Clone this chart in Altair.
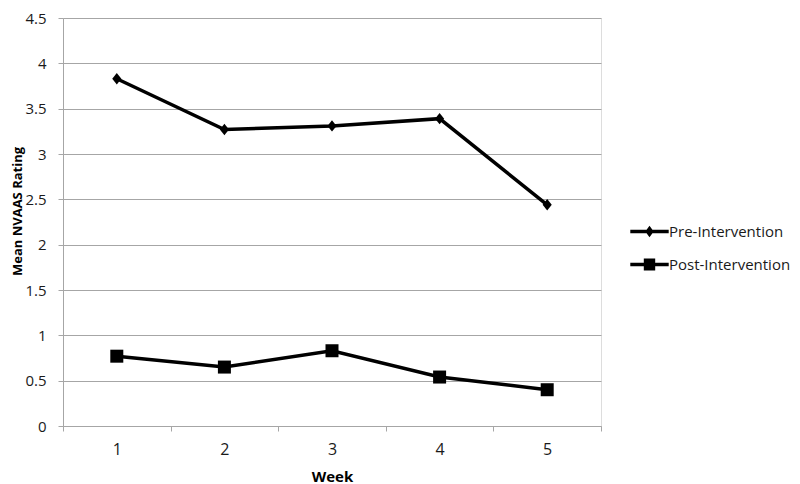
import altair as alt
import pandas as pd

weeks = ["1", "2", "3", "4", "5"]
pre_values = [3.83, 3.27, 3.31, 3.39, 2.44]
post_values = [0.77, 0.65, 0.83, 0.54, 0.40]
series_names = ["Pre-Intervention", "Post-Intervention"]

rows = []
for w, v in zip(weeks, pre_values):
    rows.append({"Week": w, "Rating": v, "Series": series_names[0]})
for w, v in zip(weeks, post_values):
    rows.append({"Week": w, "Rating": v, "Series": series_names[1]})
df = pd.DataFrame(rows)

FONT = "Open Sans"
GRID = "#a6a6a6"
TXT = "#1a1a1a"

x_enc = alt.X(
    "Week:O",
    bandPosition=0.5,
    scale=alt.Scale(type="band", paddingInner=0, paddingOuter=0),
    axis=alt.Axis(
        title="Week", labelAngle=0, tickBand="extent", grid=False,
        domainColor=GRID, tickColor=GRID, tickSize=5, labelPadding=10,
        labelFont=FONT, labelFontSize=16, labelColor=TXT,
        titleFont=FONT, titleFontSize=15, titleFontWeight="bold",
        titleColor="#000000", titlePadding=12,
    ),
)
y_enc = alt.Y(
    "Rating:Q",
    scale=alt.Scale(domain=[0, 4.5], nice=False),
    axis=alt.Axis(
        title="Mean NVAAS Rating", values=[0, 0.5, 1, 1.5, 2, 2.5, 3, 3.5, 4, 4.5],
        format="", grid=True, gridColor=GRID, domainColor=GRID, tickColor=GRID,
        tickSize=5, labelPadding=12, labelFont=FONT, labelFontSize=15,
        labelColor=TXT, titleFont=FONT, titleFontSize=13,
        titleFontWeight="bold", titleColor="#000000",
        titleX=-39, titleY=193, titleAnchor="middle",
    ),
)

lines = alt.Chart(df).mark_line(color="black", strokeWidth=3.5).encode(
    x=x_enc, y=y_enc, detail="Series:N"
)

points = alt.Chart(df).mark_point(filled=True, color="black", opacity=1).encode(
    x=x_enc, y=y_enc,
    shape=alt.Shape(
        "Series:N",
        scale=alt.Scale(domain=series_names,
                        range=["M0,-1L0.8,0L0,1L-0.8,0Z", "square"]),
        legend=None,
    ),
    size=alt.Size(
        "Series:N",
        scale=alt.Scale(domain=series_names, range=[130, 169]),
        legend=None,
    ),
)

legend_paths = [
    "M-3.2,-0.3H3.2V0.3H-3.2Z M0,-0.95L0.7,0L0,0.95L-0.7,0Z",
    "M-3.2,-0.3H3.2V0.3H-3.2Z M-0.95,-1H0.95V1H-0.95Z",
]
legend_layer = alt.Chart(df).transform_filter("false").mark_point(
    filled=True, color="black", opacity=1
).encode(
    x=x_enc, y=y_enc,
    shape=alt.Shape(
        "Series:N",
        scale=alt.Scale(domain=series_names, range=legend_paths),
        legend=alt.Legend(
            title=None, orient="none", legendX=579, legendY=206,
            symbolSize=144, symbolFillColor="black", symbolStrokeWidth=0,
            symbolOpacity=1, labelOffset=12,
            labelFont=FONT, labelFontSize=15, labelColor=TXT,
            rowPadding=17, padding=0,
        ),
    ),
)

chart = alt.layer(lines, points, legend_layer).resolve_scale(
    shape="independent"
).properties(
    width=538, height=408,
    autosize=alt.AutoSizeParams(type="none"),
    padding={"left": 55, "top": 10, "right": 191, "bottom": 58},
).configure_view(stroke=None).configure(background="white")

chart.save("out.html", embed_options={"renderer": "svg", "actions": False})
